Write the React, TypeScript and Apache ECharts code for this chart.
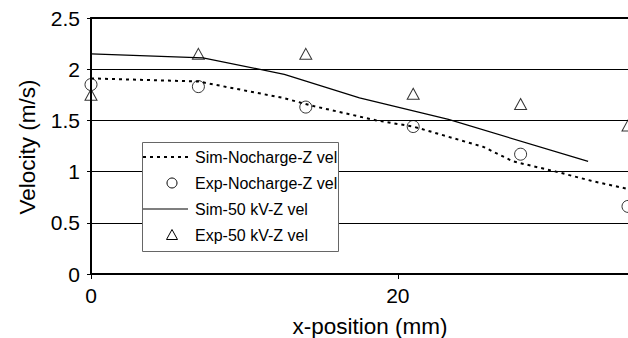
import React, { useEffect, useRef } from "react";
import * as echarts from "echarts";

const FONT = "'Liberation Sans', Arial, Helvetica, sans-serif";

const simNochargeX = [0, 7, 12.5, 14.5, 18.6, 21, 25.6, 27.5, 30.3, 32.6, 35];
const simNochargeY = [1.91, 1.88, 1.72, 1.64, 1.5, 1.44, 1.24, 1.1, 1.0, 0.91, 0.83];

const expX = [0, 7, 14, 21, 28, 35];
const expNochargeY = [1.85, 1.83, 1.63, 1.44, 1.17, 0.66];
const exp50kVY = [1.75, 2.15, 2.15, 1.76, 1.66, 1.45];

const sim50kVX = [0, 7.3, 12.6, 17.5, 23.3, 32.4];
const sim50kVY = [2.15, 2.11, 1.95, 1.72, 1.51, 1.1];

const seriesNames = [
  "Sim-Nocharge-Z vel",
  "Exp-Nocharge-Z vel",
  "Sim-50 kV-Z vel",
  "Exp-50 kV-Z vel",
];

const pairs = (xs: number[], ys: number[]) => xs.map((x, i) => [x, ys[i]]);

function legendGraphic() {
  const left = 142;
  const top = 142;
  const w = 196;
  const h = 109;
  const rowY = [157, 183, 209, 235];
  const iconL = 143;
  const iconR = 188;
  const iconC = 172;
  const textX = 195;
  const els: any[] = [
    {
      type: "rect",
      shape: { x: left + 0.5, y: top + 0.5, width: w, height: h },
      style: { fill: "#fff", stroke: "#666", lineWidth: 1 },
      z: 10,
    },
    {
      type: "line",
      shape: { x1: iconL, y1: rowY[0], x2: iconR, y2: rowY[0] },
      style: { stroke: "#000", lineWidth: 2, lineDash: [3, 4] },
      z: 11,
    },
    {
      type: "circle",
      shape: { cx: iconC, cy: rowY[1], r: 5 },
      style: { fill: "none", stroke: "#000", lineWidth: 1 },
      z: 11,
    },
    {
      type: "line",
      shape: { x1: iconL, y1: rowY[2], x2: iconR, y2: rowY[2] },
      style: { stroke: "#000", lineWidth: 1.2 },
      z: 11,
    },
    {
      type: "polygon",
      shape: {
        points: [
          [iconC, rowY[3] - 5.5],
          [iconC - 5.5, rowY[3] + 4.5],
          [iconC + 5.5, rowY[3] + 4.5],
        ],
      },
      style: { fill: "none", stroke: "#000", lineWidth: 1 },
      z: 11,
    },
  ];
  seriesNames.forEach((name, i) => {
    els.push({
      type: "text",
      x: textX,
      y: rowY[i],
      style: {
        text: name,
        fontSize: 16,
        fontFamily: FONT,
        fill: "#000",
        textAlign: "left",
        textVerticalAlign: "middle",
      },
      z: 11,
    });
  });
  return els;
}

export default function App() {
  const ref = useRef<HTMLDivElement>(null);
  useEffect(() => {
    if (!ref.current) return;
    const chart = echarts.init(ref.current, undefined, { renderer: "svg" });
    chart.setOption({
      animation: false,
      backgroundColor: "#fff",
      textStyle: { fontFamily: FONT, color: "#000" },
      grid: { left: 91, top: 18, right: -2, bottom: 64, containLabel: false },
      xAxis: [
        {
          type: "value",
          min: 0,
          max: 35,
          interval: 20,
          position: "bottom",
          axisLine: { show: true, lineStyle: { color: "#000", width: 2 } },
          axisTick: { show: true, length: 5, lineStyle: { color: "#000", width: 1 } },
          axisLabel: { fontSize: 21, color: "#000", fontFamily: FONT, margin: 11, showMaxLabel: false },
          splitLine: { show: false },
        },
        {
          type: "value",
          min: 0,
          max: 35,
          position: "top",
          axisLine: { show: true, lineStyle: { color: "#000", width: 2 } },
          axisTick: { show: false },
          axisLabel: { show: false },
          splitLine: { show: false },
        },
      ],
      yAxis: {
        type: "value",
        min: 0,
        max: 2.5,
        interval: 0.5,
        axisLine: { show: true, lineStyle: { color: "#000", width: 2 } },
        axisTick: { show: true, length: 4, lineStyle: { color: "#000", width: 1 } },
        axisLabel: { fontSize: 21, color: "#000", fontFamily: FONT, margin: 11 },
        splitLine: { show: true, lineStyle: { color: "#000", width: 1 } },
      },
      graphic: [
        {
          type: "text",
          x: 27,
          y: 147,
          rotation: Math.PI / 2,
          style: {
            text: "Velocity (m/s)",
            fontSize: 22.5,
            fontFamily: FONT,
            fill: "#000",
            textAlign: "center",
            textVerticalAlign: "middle",
          },
        },
        {
          type: "text",
          x: 370,
          y: 326,
          style: {
            text: "x-position (mm)",
            fontSize: 22.5,
            fontFamily: FONT,
            fill: "#000",
            textAlign: "center",
            textVerticalAlign: "middle",
          },
        },
        ...legendGraphic(),
      ],
      series: [
        {
          name: seriesNames[0],
          type: "line",
          data: pairs(simNochargeX, simNochargeY),
          symbol: "none",
          lineStyle: { color: "#000", width: 2, type: [3, 4] },
          itemStyle: { color: "#000" },
          z: 3,
        },
        {
          name: seriesNames[1],
          type: "scatter",
          data: pairs(expX, expNochargeY),
          symbol: "circle",
          symbolSize: 12,
          itemStyle: { color: "transparent", borderColor: "#000", borderWidth: 1 },
          clip: false,
          z: 4,
        },
        {
          name: seriesNames[2],
          type: "line",
          data: pairs(sim50kVX, sim50kVY),
          symbol: "none",
          lineStyle: { color: "#000", width: 1.2, type: "solid" },
          itemStyle: { color: "#000" },
          z: 3,
        },
        {
          name: seriesNames[3],
          type: "scatter",
          data: pairs(expX, exp50kVY),
          symbol: "triangle",
          symbolSize: [12, 11],
          itemStyle: { color: "transparent", borderColor: "#000", borderWidth: 1 },
          clip: false,
          z: 4,
        },
      ],
    });
    return () => chart.dispose();
  }, []);
  return (
    <div
      ref={ref}
      style={{ position: "absolute", left: 0, top: 0, width: 628, height: 338 }}
    />
  );
}
